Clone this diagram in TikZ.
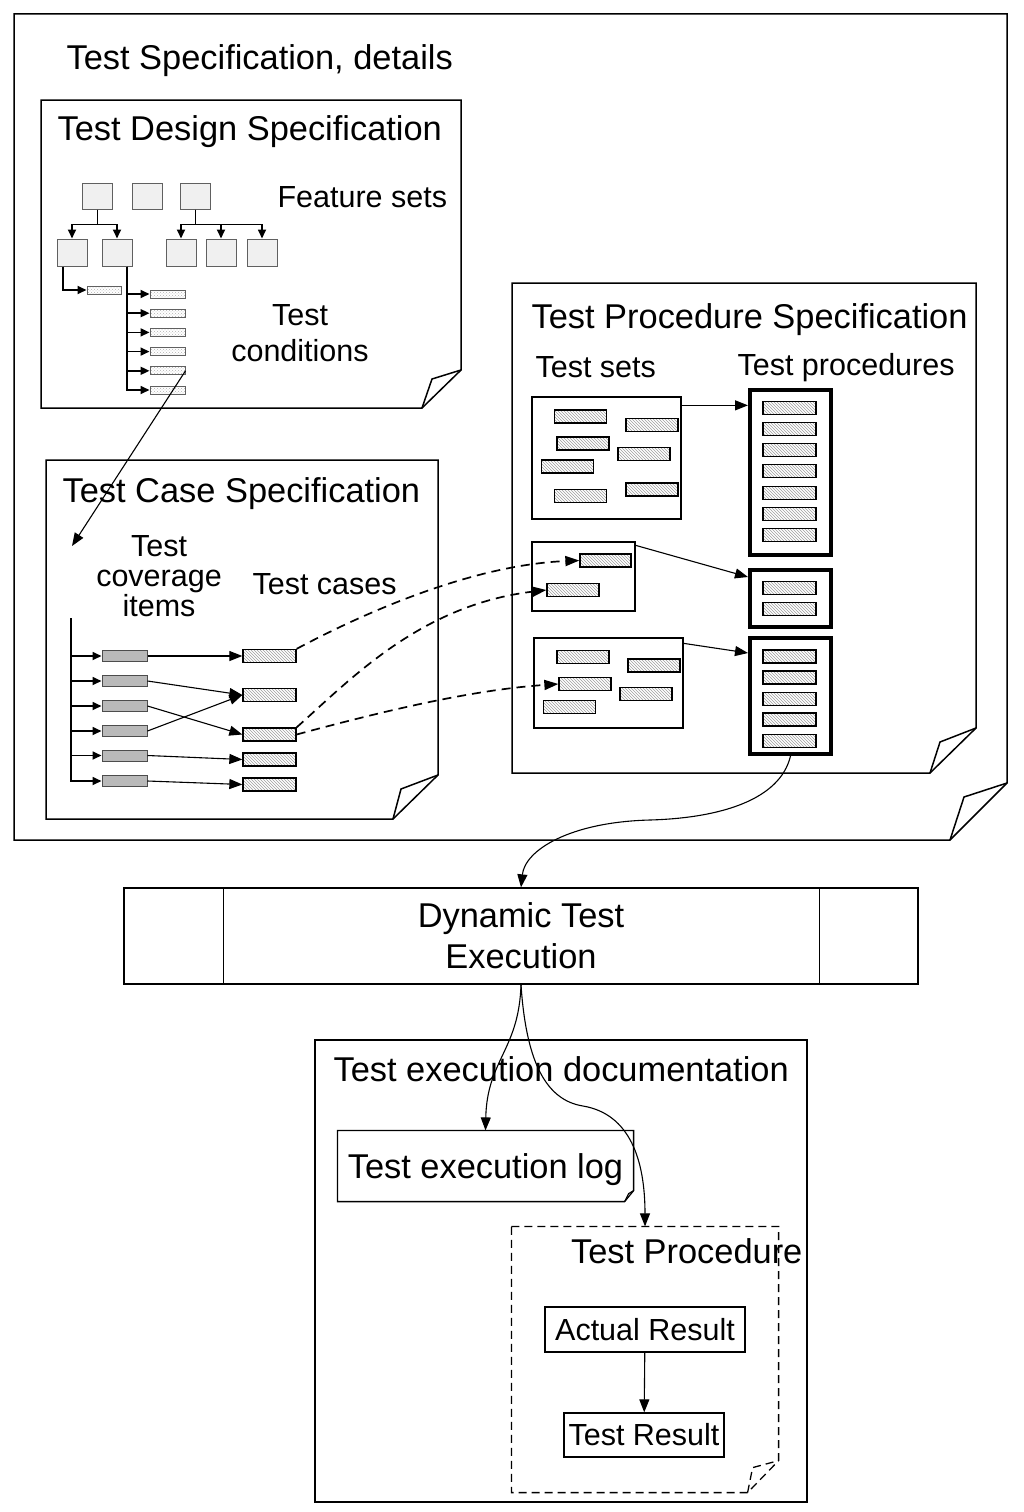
\documentclass[tikz,border=0pt]{standalone}
\usepackage{fontspec}
\setmainfont{Liberation Sans}
\usetikzlibrary{arrows.meta,patterns,calc}
\begin{document}
\begin{tikzpicture}[x=1pt,y=-1pt, line width=1.2pt, line join=miter,
  tbig/.style={font=\fontsize{34.4}{40}\selectfont, inner sep=0pt},
  tmed/.style={font=\fontsize{30.5}{36}\selectfont, inner sep=0pt},
  page/.style={draw, line width=1.5pt},
  fbox/.style={draw=gray!75!black, fill=gray!12, line width=1pt, inner sep=0pt, minimum width=30, minimum height=26},
  cbox/.style={draw=gray!75!black, pattern=crosshatch dots, pattern color=gray!60, line width=1pt, inner sep=0pt, minimum width=35, minimum height=8},
  hbox/.style={draw, line width=1.3pt, pattern=north west lines, pattern color=gray!75, inner sep=0pt, minimum width=53, minimum height=13},
  gbox/.style={draw=gray!60!black, fill=gray!55, line width=1pt, inner sep=0pt, minimum width=45, minimum height=11},
  sbox/.style={draw, line width=1.3pt, inner sep=0pt},
  pbox/.style={draw, line width=4pt, inner sep=0pt, minimum width=81},
  arr/.style={-{Triangle[length=13pt,width=10pt]}, line width=1.1pt},
  sarr/.style={-{Triangle[length=9pt,width=8pt]}, line width=1.7pt},
  darr/.style={-{Triangle[length=14pt,width=10pt]}, line width=1.7pt, dash pattern=on 9pt off 6pt},
  dline/.style={line width=1.3pt, dash pattern=on 8pt off 5pt}]
\useasboundingbox (0,0) rectangle (1024,1512);
\fill[white] (0,0) rectangle (1024,1512);

% ---------- outer page
\draw[page] (14,14) -- (1007,14) -- (1007,783) -- (950,840) -- (14,840) -- cycle;
\draw[page] (950,840) -- (964,797) -- (1007,783);
\node[tbig, anchor=base west] (tsd) at (66,70) {Test Specification, details};

% ---------- Test Design Specification
\draw[page] (41,100) -- (461,100) -- (461,370) -- (422,408) -- (41,408) -- cycle;
\draw[page] (422,408) -- (432,379) -- (461,370);
\node[tbig, anchor=base west] (tds) at (57,140) {Test Design Specification};
\node[tmed, anchor=base west] (fs) at (277,207) {Feature sets};
\node[tmed, align=center] (tcond) at (300,333) {Test\\conditions};

\node[fbox] (f1) at (97.5,196) {};
\node[fbox] (f2) at (147,196) {};
\node[fbox] (f3) at (195.5,196) {};
\node[fbox, minimum height=27] (f1a) at (72,252.5) {};
\node[fbox, minimum height=27] (f1b) at (117,252.5) {};
\node[fbox, minimum height=27] (f3a) at (181,252.5) {};
\node[fbox, minimum height=27] (f3b) at (221,252.5) {};
\node[fbox, minimum height=27] (f3c) at (262,252.5) {};
\draw[sarr] (f1.south) -- ++(0,15) -| (f1a.north);
\draw[sarr] (f1.south) -- ++(0,15) -| (f1b.north);
\draw[sarr] (f3.south) -- ++(0,15) -| (f3a.north);
\draw[sarr] (f3.south) -- ++(0,15) -| (f3b.north);
\draw[sarr] (f3.south) -- ++(0,15) -| (f3c.north);

\node[cbox, minimum width=34] (c0) at (104,290) {};
\foreach \i/\y in {1/294,2/313.2,3/332.4,4/351.6,5/370.8,6/390}
  \node[cbox] (c\i) at (167.5,\y) {};
\draw[sarr] ([xshift=-9]f1a.south) |- (c0.west);
\foreach \i in {1,...,6}
  \draw[sarr] ([xshift=10]f1b.south) |- (c\i.west);

% ---------- Test Case Specification
\draw[page] (46,460) -- (438,460) -- (438,775) -- (393,819) -- (46,819) -- cycle;
\draw[page] (393,819) -- (401,789) -- (438,775);
\node[tbig, anchor=base west] (tcs) at (62,502) {Test Case Specification};
\node[tmed, align=center, font=\fontsize{30.5}{30}\selectfont] (tci) at (159,576) {Test\\coverage\\items};
\node[tmed, anchor=base west] (tcl) at (252,594) {Test cases};

\coordinate (tcin) at (72,546);
\draw[arr] (c5.east) -- (tcin);

\coordinate (cvtop) at (71,618);
\foreach \i/\y in {1/656,2/681,3/706,4/731,5/755.5,6/781}
  \node[gbox] (g\i) at (124.5,\y) {};
\foreach \i/\y in {1/656,2/695,3/734.5,4/759.5,5/784.5}
  \node[hbox] (t\i) at (269.5,\y) {};
\foreach \i in {1,...,6}
  \draw[sarr] (cvtop) |- (g\i.west);
\draw[arr] (g1.east) -- (t1.west);
\draw[arr] (g2.east) -- (t2.west);
\draw[arr] (g3.east) -- (t3.west);
\draw[arr] (g4.east) -- (t2.west);
\draw[arr] (g5.east) -- (t4.west);
\draw[arr] (g6.east) -- (t5.west);

% ---------- Test Procedure Specification
\draw[page] (512,283) -- (976,283) -- (976,728) -- (930,773) -- (512,773) -- cycle;
\draw[page] (930,773) -- (940,742) -- (976,728);
\node[tbig, anchor=base west] (tps) at (531,328) {Test Procedure Specification};
\node[tmed, anchor=base west] (tsets) at (535,377) {Test sets};
\node[tmed, anchor=base west] (tprocs) at (737,375) {Test procedures};

\node[sbox, minimum width=149, minimum height=122] (s1) at (606.5,458) {};
\node[sbox, minimum width=103, minimum height=69] (s2) at (583.5,576.5) {};
\node[sbox, minimum width=149, minimum height=90] (s3) at (608.5,683) {};
\foreach \n/\x/\y in {a/580.5/416.5,b/652/425,c/583/443.5,d/644/454,e/567.5/466.5,f/580.5/496,g/652/489.5}
  \node[hbox, minimum width=52] (s1\n) at (\x,\y) {};
\node[hbox, minimum width=51] (s2a) at (605.5,560.5) {};
\node[hbox, minimum width=52] (s2b) at (573,590) {};
\foreach \n/\x/\y in {a/583/657,b/654/665.5,c/585/684,d/646/694,e/569.5/707}
  \node[hbox, minimum width=52] (s3\n) at (\x,\y) {};

\node[pbox, minimum height=165] (p1) at (790.5,472.5) {};
\node[pbox, minimum height=57] (p2) at (790.5,598.5) {};
\node[pbox, minimum height=116] (p3) at (790.5,696) {};
\foreach \i/\y in {1/408,2/429,3/450,4/471,5/493,6/514,7/535}
  \node[hbox] (p1i\i) at (789.5,\y) {};
\foreach \i/\y in {1/588,2/609}
  \node[hbox] (p2i\i) at (789.5,\y) {};
\foreach \i/\y in {1/656.5,2/677.5,3/699,4/719.5,5/741}
  \node[hbox] (p3i\i) at (789.5,\y) {};

\coordinate (s1out) at ([yshift=-9]s1.north east);
\draw[arr] (s1out) -- (s1out -| p1.west);
\draw[arr] ([yshift=-4]s2.north east) -- ([yshift=-9]p2.north west);
\draw[arr] ([yshift=-6]s3.north east) -- ([yshift=-17]p3.north west);

% dashed links test cases -> test sets
\draw[darr] (t1.north east) .. controls (360,615) and (470,565) .. (s2a.west);
\draw[darr] (t3.north east) .. controls (350,680) and (420,605) .. (s2b.west);
\draw[darr] (t3.east) .. controls (380,712) and (470,690) .. (s3c.west);

% ---------- Dynamic Test Execution
\node[tbig, draw, line width=1.3pt, minimum width=794, minimum height=96, align=center, font=\fontsize{34.4}{41}\selectfont] (dyn) at (521,936) {Dynamic Test\\Execution};
\draw[line width=1.3pt] ([xshift=100]dyn.north west) -- ([xshift=100]dyn.south west);
\draw[line width=1.3pt] ([xshift=-99]dyn.north east) -- ([xshift=-99]dyn.south east);

\draw[arr] (p3.south) .. controls (780,800) and (720,818) .. (650,820) .. controls (570,822) and (525,850) .. (dyn.north);

% ---------- Test execution documentation
\node[draw, line width=1.3pt, minimum width=492, minimum height=462, inner sep=0pt] (ted) at (561,1271) {};
\node[tbig, anchor=base west] (tedt) at (333,1081) {Test execution documentation};

\node[tbig, minimum width=295, minimum height=70, text height=24, text depth=0pt] (log) at (485.5,1166) {Test execution log};
\draw[line width=1.3pt] (log.north west) -- (log.north east) -- ([yshift=11]log.south east) -- ([xshift=-9]log.south east) -- (log.south west) -- cycle;
\draw[line width=1.1pt] ([xshift=-9]log.south east) -- ([xshift=-5,yshift=8]log.south east) -- ([yshift=11]log.south east);

\node[minimum width=266, minimum height=265, inner sep=0pt] (tproc) at (645,1359.5) {};
\draw[dline] (tproc.north west) -- (tproc.north east) -- ([yshift=32]tproc.south east) -- ([xshift=-31]tproc.south east) -- (tproc.south west) -- cycle;
\draw[dline] ([xshift=-31]tproc.south east) -- ([xshift=-26,yshift=25]tproc.south east) -- ([yshift=32]tproc.south east);
\node[tbig, anchor=base east] (tproct) at (803,1263) {Test Procedure};

\node[tmed, draw, line width=1.3pt, minimum width=200, minimum height=45, text height=21.5, text depth=0pt] (ar) at (645,1329.5) {Actual Result};
\node[tmed, draw, line width=1.3pt, minimum width=160, minimum height=44, text height=21.5, text depth=0pt] (tr) at (644,1435) {Test Result};
\draw[arr] (ar) -- (tr);

\draw[arr] (dyn.south) .. controls (519,1050) and (487,1060) .. (log.north);
\draw[arr] (dyn.south) .. controls (526,1060) and (545,1100) .. (583,1106) .. controls (630,1114) and (645,1160) .. (tproc.north);
\end{tikzpicture}
\end{document}
